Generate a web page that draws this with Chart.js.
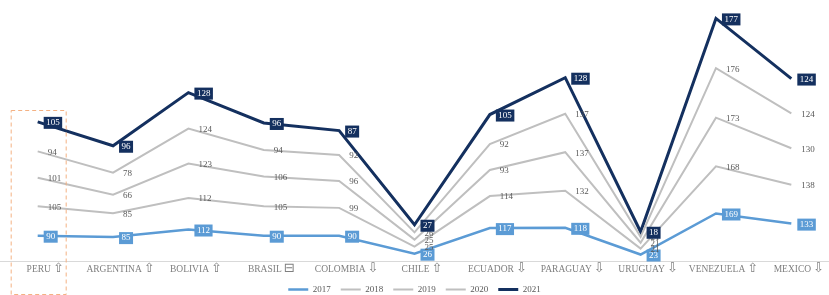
<!DOCTYPE html>
<html>
<head>
<meta charset="utf-8">
<script src="https://cdn.jsdelivr.net/npm/chart.js@4"></script>
<style>
    html, body { margin: 0; padding: 0; background: #fff; }
    #wrap { width: 829px; height: 295px; position: relative; }
</style>
</head>
<body>
<div id="wrap"><canvas id="chart"></canvas></div>
<script>
// 국가 / 변화 표시
const countries = ['PERU', 'ARGENTINA', 'BOLIVIA', 'BRASIL', 'COLOMBIA', 'CHILE',
    'ECUADOR', 'PARAGUAY', 'URUGUAY', 'VENEZUELA', 'MEXICO'];
const trend = ['⇧', '⇧', '⇧', '⊟', '⇩', '⇧', '⇩', '⇩', '⇩', '⇧', '⇩'];

// 연도별 값
const years = ['2017', '2018', '2019', '2020', '2021'];
const v2017 = [90, 85, 112, 90, 90, 26, 117, 118, 23, 169, 133];
const v2018 = [105, 85, 112, 105, 99, 25, 114, 132, 21, 168, 138];
const v2019 = [101, 66, 123, 106, 96, 25, 93, 137, 21, 173, 130];
const v2020 = [94, 78, 124, 94, 92, 26, 92, 137, 21, 176, 124];
const v2021 = [105, 96, 128, 96, 87, 27, 105, 128, 18, 177, 124];

const lineColors = ['#5B9BD5', '#BFBFBF', '#BFBFBF', '#BFBFBF', '#14305F'];
const lineWidths = [2.5, 2, 2, 2, 3];
const serif = "'Liberation Serif', 'DejaVu Serif', serif";
const tickFont = 9.5;
const tickPad = '     ';

// 데이터 라벨 (2017/2021 은 박스, 나머지는 글자만)
const labelPlugin = {
    id: 'valueLabels',
    afterDatasetsDraw(chart) {
        const ctx = chart.ctx;
        ctx.save();
        ctx.font = '9px ' + serif;
        ctx.textBaseline = 'middle';
        ctx.textAlign = 'left';
        chart.data.datasets.forEach((ds, di) => {
            const meta = chart.getDatasetMeta(di);
            const boxed = di === 0 || di === 4;
            meta.data.forEach((pt, i) => {
                const txt = String(ds.data[i]);
                const w = ctx.measureText(txt).width;
                const x = pt.x + 8;
                const y = pt.y + 1;
                if (boxed) {
                    ctx.fillStyle = di === 0 ? '#5B9BD5' : '#14305F';
                    ctx.fillRect(x - 2, y - 6, w + 5, 12);
                    ctx.fillStyle = '#fff';
                    ctx.fillText(txt, x + 0.5, y);
                } else {
                    ctx.fillStyle = '#595959';
                    ctx.fillText(txt, x + 2, y);
                }
            });
        });
        ctx.restore();
    }
};

// 페루 강조 점선 박스 + 추세 화살표
const highlightPlugin = {
    id: 'highlight',
    afterDraw(chart) {
        const ctx = chart.ctx;
        const xs = chart.scales.x;
        const x0 = xs.getPixelForValue(0);
        ctx.save();
        ctx.strokeStyle = '#F4B183';
        ctx.lineWidth = 1;
        ctx.setLineDash([4, 3]);
        ctx.strokeRect(x0 - 26.5, 110.5, 55, 184);
        ctx.setLineDash([]);

        // 화살표
        const y = xs.bottom - xs.height + 8;
        countries.forEach((name, i) => {
            ctx.font = tickFont + 'px ' + serif;
            const full = ctx.measureText(name + tickPad).width;
            const nw = ctx.measureText(name).width;
            const cx = xs.getPixelForTick(i) + 7;
            const ax = cx - full / 2 + nw + 2;
            ctx.font = '13px "DejaVu Sans"';
            ctx.fillStyle = '#7F7F7F';
            ctx.textAlign = 'left';
            ctx.textBaseline = 'middle';
            ctx.fillText(trend[i], ax, chart.chartArea.bottom + 8);
        });
        ctx.restore();
    }
};

const series = [v2017, v2018, v2019, v2020, v2021];

new Chart(document.getElementById('chart').getContext('2d'), {
    type: 'line',
    data: {
        labels: countries,
        datasets: series.map((vals, i) => ({
            label: years[i],
            data: vals,
            borderColor: lineColors[i],
            backgroundColor: lineColors[i],
            borderWidth: lineWidths[i],
            pointRadius: 0,
            pointStyle: 'line',
            tension: 0,
            borderJoinStyle: 'miter',
            fill: false
        }))
    },
    options: {
        responsive: true,
        maintainAspectRatio: false,
        animation: false,
        layout: { padding: { top: 8, left: 0, right: 0, bottom: 0 } },
        plugins: {
            tooltip: { enabled: false },
            legend: {
                position: 'bottom',
                maxHeight: 20,
                labels: {
                    usePointStyle: true,
                    pointStyleWidth: 20,
                    boxWidth: 20,
                    boxHeight: 8,
                    padding: 10,
                    color: '#595959',
                    font: { size: 9, family: serif }
                }
            }
        },
        scales: {
            x: {
                offset: true,
                grid: { display: false, drawTicks: false },
                border: { display: true, color: '#D9D9D9', width: 1 },
                ticks: {
                    autoSkip: false,
                    maxRotation: 0,
                    padding: 3,
                    labelOffset: 7,
                    color: '#7F7F7F',
                    font: { size: tickFont, family: serif },
                    callback: (v, i) => countries[i] + tickPad
                },
                afterFit: (scale) => { scale.height = 14; }
            },
            y: {
                stacked: true,
                display: false,
                min: 0,
                max: 900
            }
        }
    },
    plugins: [labelPlugin, highlightPlugin]
});
</script>
</body>
</html>
